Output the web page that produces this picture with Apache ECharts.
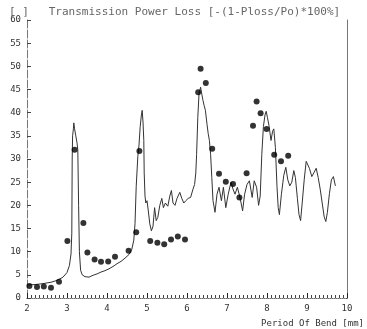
<!DOCTYPE html>
<html>
<head>
<meta charset="utf-8">
<script src="https://cdn.jsdelivr.net/npm/echarts@6/dist/echarts.min.js"></script>
<style>
  html, body { margin: 0; padding: 0; background: #fff; }
  #chart { width: 367px; height: 329px; }
</style>
</head>
<body>
<div id="chart"></div>
<script>
// measured curve (period of bend in mm, loss in %)
var lineX = [2.00, 2.20, 2.40, 2.60, 2.75, 2.90, 3.00, 3.06, 3.10, 3.12, 3.13, 3.14, 3.16, 3.17, 3.19, 3.22, 3.25, 3.27, 3.29, 3.31, 3.34, 3.38, 3.45, 3.55, 3.65, 3.75, 3.85, 3.95, 4.05, 4.15, 4.25, 4.35, 4.45, 4.55, 4.62, 4.67, 4.70, 4.73, 4.77, 4.80, 4.83, 4.86, 4.88, 4.90, 4.92, 4.93, 4.95, 4.97, 5.00, 5.03, 5.07, 5.11, 5.15, 5.19, 5.23, 5.27, 5.32, 5.37, 5.41, 5.46, 5.52, 5.57, 5.61, 5.65, 5.70, 5.75, 5.82, 5.87, 5.92, 5.97, 6.03, 6.09, 6.15, 6.19, 6.22, 6.24, 6.27, 6.30, 6.34, 6.37, 6.40, 6.43, 6.46, 6.50, 6.53, 6.56, 6.59, 6.62, 6.65, 6.70, 6.75, 6.80, 6.86, 6.91, 6.97, 7.03, 7.10, 7.15, 7.20, 7.26, 7.33, 7.39, 7.44, 7.50, 7.56, 7.63, 7.68, 7.74, 7.79, 7.83, 7.87, 7.91, 7.95, 7.98, 8.01, 8.05, 8.10, 8.14, 8.17, 8.21, 8.25, 8.28, 8.31, 8.36, 8.42, 8.47, 8.52, 8.57, 8.62, 8.67, 8.71, 8.76, 8.80, 8.84, 8.88, 8.93, 8.98, 9.02, 9.06, 9.12, 9.17, 9.23, 9.28, 9.33, 9.38, 9.43, 9.47, 9.51, 9.56, 9.61, 9.66, 9.71];
var lineY = [2.8, 2.9, 3.1, 3.4, 3.8, 4.5, 5.5, 7.0, 9.5, 14, 30, 35, 36.5, 37.8, 36.5, 35, 33.5, 32, 20, 10, 6, 5, 4.6, 4.5, 4.9, 5.2, 5.6, 5.9, 6.3, 6.8, 7.4, 7.9, 8.6, 9.4, 10.5, 12.5, 16, 24, 30.5, 33, 37, 39.5, 40.5, 38, 34, 27, 22, 20.5, 21, 19, 16, 14.5, 15.5, 19.5, 16.7, 17.4, 20, 21.5, 19.5, 20.5, 19.8, 22, 23.2, 20.5, 20, 21.5, 22.8, 21.5, 20.5, 21, 21.5, 21.7, 23.5, 24.5, 27, 31, 39, 44, 45.5, 44, 42.6, 41.5, 40.5, 37.5, 35.5, 34, 31, 26, 21, 18.5, 22.4, 23.9, 21, 23.9, 19.5, 22.4, 25, 23.5, 22.4, 23.9, 21.5, 18.8, 22.4, 24.5, 25.3, 21.7, 25.3, 23.9, 20, 22, 31, 37, 39.5, 40.3, 39, 37.2, 34, 36, 36.5, 32.5, 24, 19.5, 18, 22.4, 26.5, 28.2, 25.5, 24.2, 25, 27.5, 26, 21.5, 18, 16.7, 20.5, 25.5, 29.5, 29.5, 28, 26.2, 27, 28, 26, 23.5, 20.5, 17.5, 16.5, 18.5, 22.5, 25.5, 26.2, 24.2];

// calculated points
var dotX = [2.06, 2.25, 2.42, 2.60, 2.80, 3.01, 3.19, 3.41, 3.51, 3.69, 3.85, 4.03, 4.20, 4.54, 4.73, 4.81, 5.08, 5.26, 5.43, 5.60, 5.77, 5.95, 6.28, 6.34, 6.47, 6.63, 6.80, 6.97, 7.15, 7.31, 7.49, 7.65, 7.74, 7.84, 7.99, 8.18, 8.35, 8.53];
var dotY = [2.6, 2.4, 2.5, 2.2, 3.5, 12.3, 32, 16.2, 9.8, 8.3, 7.8, 7.9, 8.9, 10.2, 14.2, 31.7, 12.3, 11.9, 11.6, 12.6, 13.3, 12.6, 44.4, 49.5, 46.4, 32.2, 26.8, 25.1, 24.6, 21.7, 26.9, 37.2, 42.4, 39.9, 36.5, 30.9, 29.5, 30.7];

var titleText = "[ ]   Transmission Power Loss [-(1-Ploss/Po)*100%]";
var xName = "Period Of Bend [mm]";

var mono = "DejaVu Sans Mono";
var chart = echarts.init(document.getElementById("chart"));

var option = {
  animation: false,
  backgroundColor: "#fff",
  title: {
    text: titleText,
    left: 4,
    top: 2,
    textStyle: { fontFamily: mono, fontSize: 11, fontWeight: "normal", color: "#666" }
  },
  grid: { left: 27, right: 19, top: 20, bottom: 31 },
  xAxis: [
    {
      type: "value",
      min: 2,
      max: 10,
      interval: 1,
      name: xName,
      nameLocation: "end",
      nameGap: 0,
      nameTextStyle: {
        fontFamily: mono, fontSize: 9, color: "#333",
        align: "right", verticalAlign: "top", padding: [21, -17, 0, 0]
      },
      axisLine: { lineStyle: { color: "#222", width: 1 } },
      axisTick: { inside: true, length: 5, lineStyle: { color: "#222" } },
      minorTick: { show: true, splitNumber: 10, length: 3, lineStyle: { color: "#444" } },
      axisLabel: { fontFamily: mono, fontSize: 9, color: "#333", margin: 6 },
      splitLine: { show: false }
    },
    {
      type: "value",
      position: "top",
      min: 2,
      max: 10,
      axisLine: { lineStyle: { color: "#999", type: "dotted" } },
      axisTick: { show: false },
      axisLabel: { show: false },
      splitLine: { show: false }
    }
  ],
  yAxis: [
    {
      type: "value",
      min: 0,
      max: 60,
      interval: 5,
      axisLine: { show: true, lineStyle: { color: "#777", width: 1, type: [8, 2] } },
      axisTick: { show: true, inside: true, length: 4, lineStyle: { color: "#444" } },
      axisLabel: { fontFamily: mono, fontSize: 9, color: "#333", margin: 6 },
      splitLine: { show: false }
    },
    {
      type: "value",
      position: "right",
      min: 0,
      max: 60,
      axisLine: { show: true, lineStyle: { color: "#777", width: 1 } },
      axisTick: { show: false },
      axisLabel: { show: false },
      splitLine: { show: false }
    }
  ],
  series: [
    {
      type: "line",
      data: lineX.map(function (x, i) { return [x, lineY[i]]; }),
      showSymbol: false,
      smooth: false,
      lineStyle: { color: "#333", width: 1 },
      z: 2
    },
    {
      type: "scatter",
      data: dotX.map(function (x, i) { return [x, dotY[i]]; }),
      symbol: "circle",
      symbolSize: 6,
      itemStyle: { color: "#000" },
      z: 3
    }
  ]
};

chart.setOption(option);
</script>
</body>
</html>
